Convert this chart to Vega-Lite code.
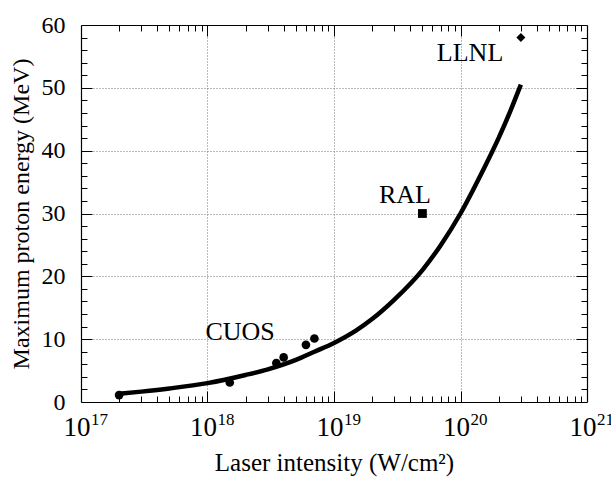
{
  "$schema": "https://vega.github.io/schema/vega-lite/v6.json",
  "width": 506,
  "height": 377,
  "autosize": {"type": "none"},
  "padding": {"left": 81, "top": 25, "right": 24, "bottom": 77},
  "background": "white",
  "config": {
    "view": {"stroke": null},
    "font": "Liberation Serif",
    "axis": {"labelFont": "Liberation Serif", "titleFont": "Liberation Serif", "labelColor": "black", "titleColor": "black", "domainColor": "black", "tickColor": "black", "titleFontWeight": "normal"}
  },
  "datasets": {
    "curve": [
      {"I": 2e17, "E": 1.3},
      {"I": 3e17, "E": 1.65},
      {"I": 5e17, "E": 2.15},
      {"I": 1e18, "E": 3.0},
      {"I": 2e18, "E": 4.3},
      {"I": 3e18, "E": 5.2},
      {"I": 5e18, "E": 6.7},
      {"I": 7e18, "E": 8.0},
      {"I": 1e19, "E": 9.4},
      {"I": 1.5e19, "E": 11.4},
      {"I": 2e19, "E": 13.2},
      {"I": 3e19, "E": 16.3},
      {"I": 5e19, "E": 21.0},
      {"I": 7e19, "E": 25.0},
      {"I": 1e20, "E": 30.0},
      {"I": 1.5e20, "E": 36.8},
      {"I": 2e20, "E": 42.0},
      {"I": 2.5e20, "E": 46.5},
      {"I": 3e20, "E": 50.5}
    ],
    "points": [
      {"I": 2e17, "E": 1.1, "lab": "CUOS"},
      {"I": 1.5e18, "E": 3.1, "lab": "CUOS"},
      {"I": 3.5e18, "E": 6.2, "lab": "CUOS"},
      {"I": 4e18, "E": 7.1, "lab": "CUOS"},
      {"I": 6e18, "E": 9.1, "lab": "CUOS"},
      {"I": 7e18, "E": 10.1, "lab": "CUOS"},
      {"I": 5e19, "E": 30, "lab": "RAL"},
      {"I": 3e20, "E": 58, "lab": "LLNL"}
    ],
    "labels": [
      {"I": 1.81e18, "E": 11.2, "text": "CUOS"},
      {"I": 3.64e19, "E": 32.9, "text": "RAL"},
      {"I": 1.19e20, "E": 55.6, "text": "LLNL"}
    ],
    "exps": [
      {"I": 1e17, "E": 0, "text": "17"},
      {"I": 1e18, "E": 0, "text": "18"},
      {"I": 1e19, "E": 0, "text": "19"},
      {"I": 1e20, "E": 0, "text": "20"},
      {"I": 1e21, "E": 0, "text": "21"}
    ]
  },
  "resolve": {"scale": {"x": "shared", "y": "shared"}, "axis": {"x": "independent", "y": "independent"}},
  "layer": [
    {
      "data": {"name": "curve"},
      "mark": {"type": "point", "opacity": 0},
      "encoding": {
        "x": {"field": "I", "type": "quantitative", "scale": {"type": "log", "domain": [1e17, 1e21], "nice": false},
          "axis": {"orient": "bottom", "values": [1e17, 1e18, 1e19, 1e20, 1e21], "title": "Laser intensity (W/cm²)", "titleFontSize": 25, "titlePadding": 10,
            "labelExpr": "'10'", "labelAlign": "right", "labelOffset": 9,
            "labelFontSize": 27, "labelPadding": 12, "ticks": false, "grid": true, "gridColor": "#777", "gridDash": [1, 2], "gridWidth": 1, "domain": true, "domainWidth": 1.2, "labelFlush": false, "labelOverlap": false}},
        "y": {"field": "E", "type": "quantitative", "scale": {"domain": [0, 60], "nice": false},
          "axis": {"orient": "left", "values": [0, 10, 20, 30, 40, 50, 60], "title": "Maximum proton energy (MeV)", "titleFontSize": 24, "titlePadding": 8,
            "labelFontSize": 24, "labelPadding": 16, "ticks": false, "grid": true, "gridColor": "#777", "gridDash": [1, 2], "gridWidth": 1, "domain": true, "domainWidth": 1.2, "labelFlush": false, "labelOverlap": false}}
      }
    },
    {
      "data": {"name": "curve"},
      "mark": {"type": "point", "opacity": 0},
      "encoding": {
        "x": {"field": "I", "type": "quantitative",
          "axis": {"orient": "bottom", "values": [2e17, 3e17, 4e17, 5e17, 6e17, 7e17, 8e17, 9e17, 2e18, 3e18, 4e18, 5e18, 6e18, 7e18, 8e18, 9e18, 2e19, 3e19, 4e19, 5e19, 6e19, 7e19, 8e19, 9e19, 2e20, 3e20, 4e20, 5e20, 6e20, 7e20, 8e20, 9e20], "labels": false, "title": null, "domain": false, "grid": false, "tickSize": -6, "tickWidth": 1}},
        "y": {"field": "E", "type": "quantitative",
          "axis": {"orient": "left", "values": [2, 4, 6, 8, 12, 14, 16, 18, 22, 24, 26, 28, 32, 34, 36, 38, 42, 44, 46, 48, 52, 54, 56, 58], "labels": false, "title": null, "domain": false, "grid": false, "tickSize": -6, "tickWidth": 1}}
      }
    },
    {
      "data": {"name": "curve"},
      "mark": {"type": "point", "opacity": 0},
      "encoding": {
        "x": {"field": "I", "type": "quantitative",
          "axis": {"orient": "bottom", "values": [1e18, 1e19, 1e20], "labels": false, "title": null, "domain": false, "grid": false, "tickSize": -11, "tickWidth": 1}},
        "y": {"field": "E", "type": "quantitative",
          "axis": {"orient": "left", "values": [10, 20, 30, 40, 50], "labels": false, "title": null, "domain": false, "grid": false, "tickSize": -11, "tickWidth": 1}}
      }
    },
    {
      "data": {"name": "curve"},
      "mark": {"type": "point", "opacity": 0},
      "encoding": {
        "x": {"field": "I", "type": "quantitative",
          "axis": {"orient": "top", "values": [2e17, 3e17, 4e17, 5e17, 6e17, 7e17, 8e17, 9e17, 2e18, 3e18, 4e18, 5e18, 6e18, 7e18, 8e18, 9e18, 2e19, 3e19, 4e19, 5e19, 6e19, 7e19, 8e19, 9e19, 2e20, 3e20, 4e20, 5e20, 6e20, 7e20, 8e20, 9e20], "labels": false, "title": null, "domain": true, "domainWidth": 1.2, "grid": false, "tickSize": -6, "tickWidth": 1}},
        "y": {"field": "E", "type": "quantitative",
          "axis": {"orient": "right", "values": [2, 4, 6, 8, 12, 14, 16, 18, 22, 24, 26, 28, 32, 34, 36, 38, 42, 44, 46, 48, 52, 54, 56, 58], "labels": false, "title": null, "domain": true, "domainWidth": 1.2, "grid": false, "tickSize": -6, "tickWidth": 1}}
      }
    },
    {
      "data": {"name": "curve"},
      "mark": {"type": "point", "opacity": 0},
      "encoding": {
        "x": {"field": "I", "type": "quantitative",
          "axis": {"orient": "top", "values": [1e18, 1e19, 1e20], "labels": false, "title": null, "domain": false, "grid": false, "tickSize": -11, "tickWidth": 1}},
        "y": {"field": "E", "type": "quantitative",
          "axis": {"orient": "right", "values": [10, 20, 30, 40, 50], "labels": false, "title": null, "domain": false, "grid": false, "tickSize": -11, "tickWidth": 1}}
      }
    },
    {
      "data": {"name": "exps"},
      "mark": {"type": "text", "font": "Liberation Serif", "fontSize": 17, "color": "black", "align": "left", "baseline": "alphabetic", "dx": 10, "dy": 23},
      "encoding": {
        "x": {"field": "I", "type": "quantitative", "axis": null},
        "y": {"field": "E", "type": "quantitative", "axis": null},
        "text": {"field": "text", "type": "nominal"}
      }
    },
    {
      "data": {"name": "curve"},
      "mark": {"type": "line", "color": "black", "strokeWidth": 4.5, "interpolate": "monotone"},
      "encoding": {
        "x": {"field": "I", "type": "quantitative", "axis": null},
        "y": {"field": "E", "type": "quantitative", "axis": null}
      }
    },
    {
      "data": {"name": "points"},
      "mark": {"type": "point", "filled": true, "opacity": 1, "color": "black"},
      "encoding": {
        "x": {"field": "I", "type": "quantitative", "axis": null},
        "y": {"field": "E", "type": "quantitative", "axis": null},
        "shape": {"field": "lab", "type": "nominal", "legend": null, "scale": {"domain": ["CUOS", "RAL", "LLNL"], "range": ["circle", "square", "diamond"]}},
        "size": {"field": "lab", "type": "nominal", "legend": null, "scale": {"domain": ["CUOS", "RAL", "LLNL"], "range": [75, 81, 75]}}
      }
    },
    {
      "data": {"name": "labels"},
      "mark": {"type": "text", "font": "Liberation Serif", "fontSize": 26, "color": "black", "align": "center", "baseline": "middle"},
      "encoding": {
        "x": {"field": "I", "type": "quantitative", "axis": null},
        "y": {"field": "E", "type": "quantitative", "axis": null},
        "text": {"field": "text", "type": "nominal"}
      }
    }
  ]
}
